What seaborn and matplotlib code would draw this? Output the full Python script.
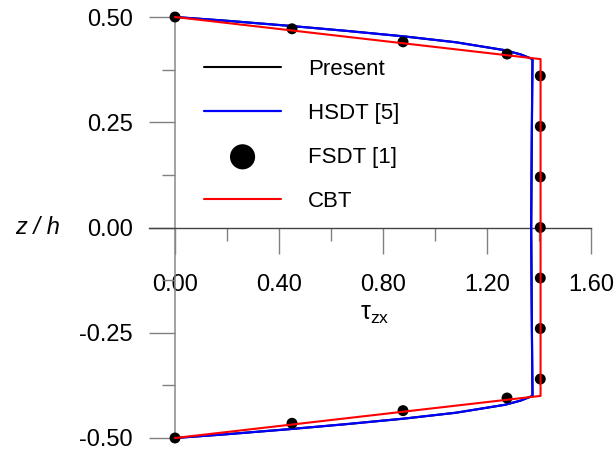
import matplotlib
matplotlib.use("Agg")
import matplotlib.pyplot as plt
import seaborn as sns
from matplotlib.ticker import MultipleLocator

# shear stress profiles tau_zx through the thickness z/h
present_x = [0.0, 0.20, 0.44, 0.66, 0.88, 1.08, 1.27, 1.33, 1.375,
             1.372, 1.370, 1.372,
             1.375, 1.33, 1.27, 1.08, 0.88, 0.66, 0.44, 0.20, 0.0]
present_z = [0.50, 0.491, 0.479, 0.467, 0.454, 0.440, 0.421, 0.411, 0.400,
             0.20, 0.0, -0.20,
             -0.400, -0.411, -0.421, -0.440, -0.454, -0.467, -0.479, -0.491, -0.50]

hsdt_x = present_x
hsdt_z = present_z

fsdt_x = [0.0, 0.45, 0.877, 1.277, 1.405, 1.405, 1.405, 1.405, 1.405, 1.405, 1.405,
          1.277, 0.877, 0.45, 0.0]
fsdt_z = [0.50, 0.472, 0.441, 0.412, 0.36, 0.24, 0.12, 0.0, -0.12, -0.24, -0.36,
          -0.405, -0.435, -0.465, -0.50]

cbt_x = [0.0, 1.406, 1.406, 0.0]
cbt_z = [0.50, 0.40, -0.40, -0.50]

x_ticks = [0.0, 0.4, 0.8, 1.2, 1.6]
x_tick_labels = ["0.00", "0.40", "0.80", "1.20", "1.60"]
y_ticks = [-0.5, -0.25, 0.0, 0.25, 0.5]
y_tick_labels = ["-0.50", "-0.25", "0.00", "0.25", "0.50"]

sns.set_style("white")
plt.rcParams["font.family"] = ["Liberation Sans", "DejaVu Sans"]
plt.rcParams["mathtext.default"] = "regular"
plt.rcParams["text.color"] = "black"

fig = plt.figure(figsize=(6.16, 4.53), dpi=100)
ax = fig.add_axes([149 / 616, 15 / 453, (591 - 149) / 616, (438 - 17) / 453])

line_kw = dict(sort=False, estimator=None, errorbar=None, ax=ax, clip_on=False)
sns.lineplot(x=present_x, y=present_z, color="black", lw=1.5,
             label="Present", zorder=2, **line_kw)
sns.lineplot(x=hsdt_x, y=hsdt_z, color="#0000ff", lw=1.6,
             label="HSDT [5]", zorder=3, **line_kw)
sns.scatterplot(x=fsdt_x, y=fsdt_z, color="black", s=62, edgecolor="none",
                ax=ax, label="FSDT [1]", clip_on=False, zorder=4)
sns.lineplot(x=cbt_x, y=cbt_z, color="#ff0000", lw=1.5,
             label="CBT", zorder=5, **line_kw)

ax.set_xlim(-0.1, 1.6)
ax.set_ylim(-0.5, 0.5)

# axes cross at the origin
ax.spines["left"].set_position(("data", 0))
ax.spines["bottom"].set_position(("data", 0))
ax.spines["right"].set_visible(False)
ax.spines["top"].set_visible(False)
ax.spines["left"].set_color("#888888")
ax.spines["bottom"].set_color("#444444")
ax.spines["left"].set_linewidth(1.1)
ax.spines["bottom"].set_linewidth(1.0)

ax.set_xticks(x_ticks)
ax.set_xticklabels(x_tick_labels)
ax.set_yticks(y_ticks)
ax.set_yticklabels(y_tick_labels)
ax.xaxis.set_minor_locator(MultipleLocator(0.2))
ax.yaxis.set_minor_locator(MultipleLocator(0.125))
ax.tick_params(which="major", direction="out", length=18.7, width=1,
               color="#808080", labelsize=17, labelcolor="black")
ax.tick_params(which="minor", direction="out", length=9.4, width=1,
               color="#808080")
ax.tick_params(axis="x", which="major", pad=15)
ax.tick_params(axis="y", which="major", pad=11.5)
ax.tick_params(axis="x", which="both", bottom=True)
ax.tick_params(axis="y", which="both", left=True)

ax.text(-0.53, 0.0, "z / h", fontsize=17, fontstyle="italic", color="black",
        ha="center", va="center")
ax.text(0.77, -0.205, r"$\tau_{zx}$", fontsize=18, color="black",
        ha="center", va="center")

handles, labels = ax.get_legend_handles_labels()
ax.legend(handles, labels, loc="center left",
          bbox_to_anchor=(184 / 616, 1 - 135.2 / 453),
          bbox_transform=fig.transFigure, frameon=False, fontsize=16,
          handlelength=3.47, handletextpad=1.2, labelspacing=1.03,
          markerscale=2.3, borderpad=0.4, labelcolor="black")

fig.savefig("out.png", dpi=100)
